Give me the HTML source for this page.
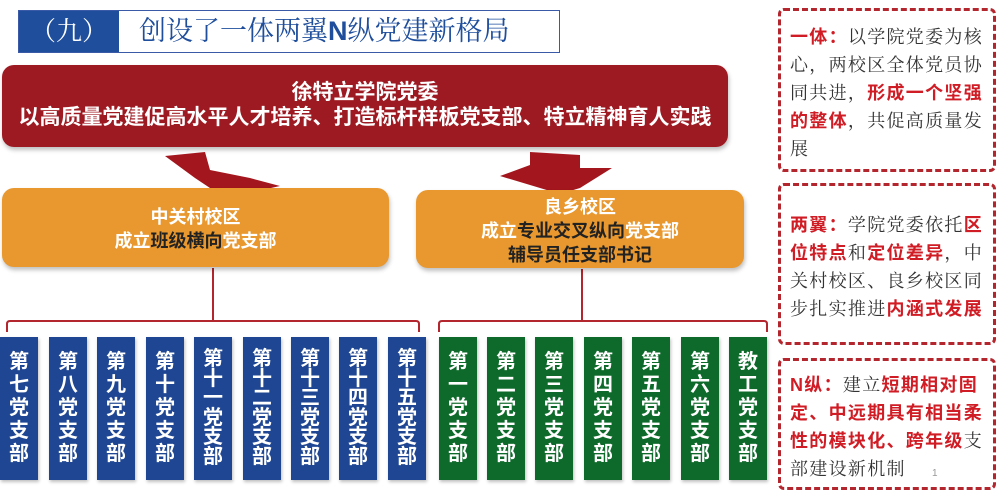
<!DOCTYPE html>
<html><head><meta charset="utf-8"><style>
*{margin:0;padding:0;box-sizing:border-box}
body{width:1001px;height:499px;background:#fff;position:relative;overflow:hidden;font-family:"Liberation Sans","Noto Sans CJK SC",sans-serif}
.abs{position:absolute}
.title{left:18px;top:10px;width:542px;height:43px;border:1px solid #3a5aa8;background:#fff}
.title .num{position:absolute;left:0;top:0;width:100px;height:41px;background:#1f4e9c;color:#fff;font-size:26px;line-height:41px;text-align:center;font-family:"Liberation Serif","Noto Serif CJK SC",serif}
.title .t{position:absolute;left:120px;top:0;line-height:41px;font-size:27px;color:#1f4e9c;font-family:"Liberation Serif","Noto Serif CJK SC",serif}
.title .t b{font-family:"Liberation Sans",sans-serif}
.red{left:2px;top:65px;width:726px;height:82px;background:#9e1a22;border-radius:12px;color:#fff;font-weight:bold;font-size:21px;text-align:center;line-height:25px;padding-top:15px;box-shadow:1px 3px 4px rgba(0,0,0,.25)}
.org{background:#e8982e;border-radius:12px;color:#fff;font-weight:bold;font-size:18px;text-align:center;line-height:24px;box-shadow:1px 3px 4px rgba(0,0,0,.25)}
.dk{color:#222}
.col{top:337px;width:38px;height:143px;color:#fff;font-weight:bold;font-size:20px;display:flex;flex-direction:column;align-items:center;justify-content:center;line-height:23px;box-shadow:1px 2px 3px rgba(0,0,0,.25)}
.col.s{line-height:19.5px}
.b{background:#1f4692}.g{background:#0e6a2b}
.side{border:3px dashed #b3262e;border-radius:6px;left:778px;width:218px;padding:0 7px 0 9px;font-size:18px;letter-spacing:1.3px;line-height:28px;color:#333;font-family:"Liberation Serif","Noto Serif CJK SC",serif}
.side b{color:#d01c24;font-family:"Liberation Sans","Noto Sans CJK SC",sans-serif}
</style></head><body>
<div class="abs title"><div class="num">（九）</div><div class="t">创设了一体两翼<b>N</b>纵党建新格局</div></div>
<div class="abs red">徐特立学院党委<br>以高质量党建促高水平人才培养、打造标杆样板党支部、特立精神育人实践</div>
<svg class="abs" style="left:0;top:0" width="770" height="499">
<polygon points="165,156 205,152 210,170 250,178 280,186 235,196 210,188 195,178" fill="#a3161d"/>
<polygon points="500,176 530,165 530,152 580,155 580,168 612,168 580,188 560,194" fill="#a3161d"/>
<g stroke="#b3262e" stroke-width="2" fill="none">
<line x1="213" y1="268" x2="213" y2="322"/>
<line x1="582" y1="269" x2="582" y2="322"/>
<path d="M7,332 V324 Q7,321 10,321 H416 Q419,321 419,324 V332"/>
<path d="M439,332 V324 Q439,321 442,321 H764 Q767,321 767,324 V332"/>
</g>
</svg>
<div class="abs org" style="left:2px;top:188px;width:387px;height:79px;padding-top:17px">中关村校区<br>成立<span class="dk">班级横向</span>党支部</div>
<div class="abs org" style="left:416px;top:190px;width:328px;height:78px;padding-top:5px">良乡校区<br>成立<span class="dk">专业交叉纵向</span>党支部<br><span class="dk">辅导员任支部书记</span></div>

<div class="abs col b" style="left:0px">第<br>七<br>党<br>支<br>部</div>
<div class="abs col b" style="left:49px">第<br>八<br>党<br>支<br>部</div>
<div class="abs col b" style="left:97px">第<br>九<br>党<br>支<br>部</div>
<div class="abs col b" style="left:146px">第<br>十<br>党<br>支<br>部</div>
<div class="abs col b s" style="left:194px">第<br>十<br>一<br>党<br>支<br>部</div>
<div class="abs col b s" style="left:243px">第<br>十<br>二<br>党<br>支<br>部</div>
<div class="abs col b s" style="left:291px">第<br>十<br>三<br>党<br>支<br>部</div>
<div class="abs col b s" style="left:339px">第<br>十<br>四<br>党<br>支<br>部</div>
<div class="abs col b s" style="left:388px">第<br>十<br>五<br>党<br>支<br>部</div>
<div class="abs col g" style="left:439px">第<br>一<br>党<br>支<br>部</div>
<div class="abs col g" style="left:487px">第<br>二<br>党<br>支<br>部</div>
<div class="abs col g" style="left:535px">第<br>三<br>党<br>支<br>部</div>
<div class="abs col g" style="left:584px">第<br>四<br>党<br>支<br>部</div>
<div class="abs col g" style="left:632px">第<br>五<br>党<br>支<br>部</div>
<div class="abs col g" style="left:681px">第<br>六<br>党<br>支<br>部</div>
<div class="abs col g" style="left:729px">教<br>工<br>党<br>支<br>部</div>

<div class="abs side" style="top:8px;height:164px;padding-top:12px"><b>一体：</b>以学院党委为核心，两校区全体党员协同共进，<b>形成一个坚强的整体</b>，共促高质量发展</div>
<div class="abs side" style="top:183px;height:162px;padding-top:25px"><b>两翼：</b>学院党委依托<b>区位特点</b>和<b>定位差异</b>，中关村校区、良乡校区同步扎实推进<b>内涵式发展</b></div>
<div class="abs side" style="top:358px;height:132px;padding-top:10px"><b>N纵：</b>建立<b>短期相对固定、中远期具有相当柔性的模块化、跨年级</b>支部建设新机制</div>
<div class="abs" style="left:932px;top:468px;font-size:10px;color:#999">1</div>
</body></html>
